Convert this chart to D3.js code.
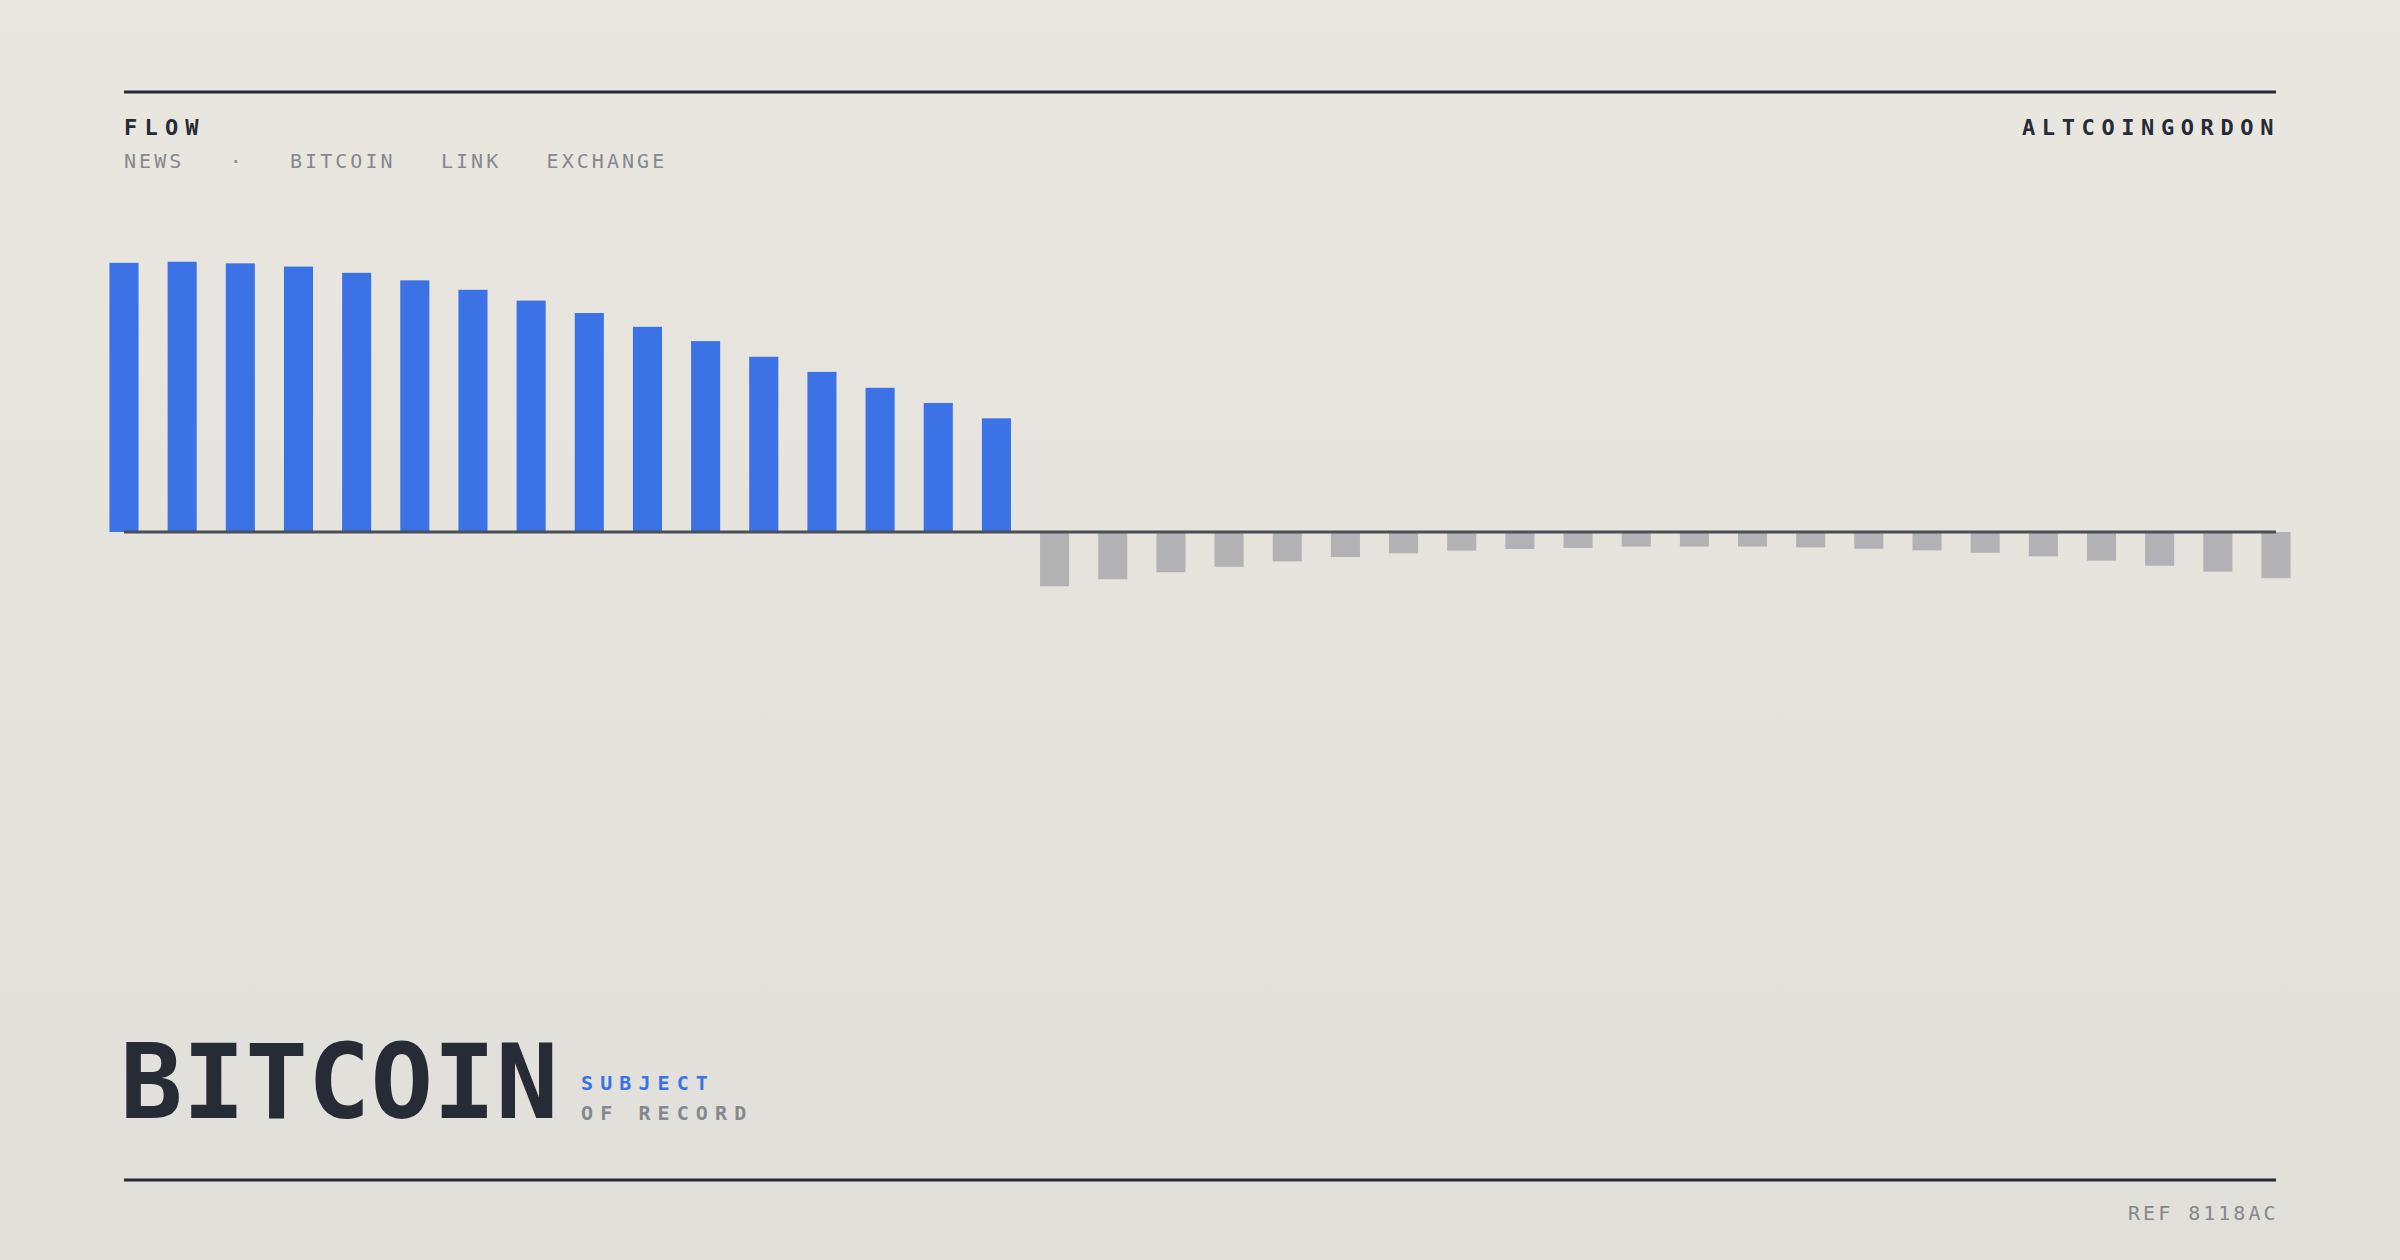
<!DOCTYPE html>
<html>
<head>
<meta charset="utf-8">
<script src="https://cdn.jsdelivr.net/npm/d3@7"></script>
<style>
  html, body { margin: 0; padding: 0; }
  body { width: 2400px; height: 1260px; overflow: hidden; }
  svg text { font-family: "DejaVu Sans Mono", "Liberation Mono", monospace; white-space: pre; }
</style>
</head>
<body>
<svg id="chart" width="2400" height="1260"></svg>
<script>
// ---- data ----
const categories = d3.range(1, 39).map(i => "P" + String(i).padStart(2, "0"));
const inflowValues = [99.7, 100.1, 99.5, 98.3, 96.0, 93.2, 89.7, 85.7, 81.1, 76.0, 70.7, 64.9, 59.3, 53.4, 47.8, 42.1];
const outflowValues = [-20.1, -17.5, -14.9, -12.9, -10.9, -9.3, -7.9, -6.9, -6.3, -5.9, -5.4, -5.4, -5.4, -5.7, -6.2, -6.8, -7.7, -9.0, -10.6, -12.5, -14.7, -17.1];
const values = inflowValues.concat(outflowValues);
const kicker = "FLOW";
const navItems = "NEWS   ·   BITCOIN   LINK   EXCHANGE";
const brand = "ALTCOINGORDON";
const title = "BITCOIN";
const subtitleTop = "SUBJECT";
const subtitleBottom = "OF RECORD";
const refLabel = "REF 8118AC";

// ---- layout ----
const W = 2400, H = 1260;
const left = 124, right = 2276;
const svg = d3.select("#chart");

const defs = svg.append("defs");
const grad = defs.append("linearGradient").attr("id", "bg").attr("x1", 0).attr("y1", 0).attr("x2", 0).attr("y2", 1);
grad.append("stop").attr("offset", "0%").attr("stop-color", "#eae7e0");
grad.append("stop").attr("offset", "100%").attr("stop-color", "#e0dfd9");
svg.append("rect").attr("width", W).attr("height", H).attr("fill", "url(#bg)");

const ink = "#272b35";
const muted = "#868890";
const blue = "#3b72e6";
const grey = "#b2b2b4";

// rules
svg.append("line").attr("x1", left).attr("x2", right).attr("y1", 92).attr("y2", 92).attr("stroke", ink).attr("stroke-width", 3);
svg.append("line").attr("x1", left).attr("x2", right).attr("y1", 1180).attr("y2", 1180).attr("stroke", ink).attr("stroke-width", 3);

// header
svg.append("text").attr("x", left).attr("y", 135).attr("font-size", 22).attr("font-weight", "bold")
  .attr("letter-spacing", 7.2).attr("fill", ink).text(kicker);
svg.append("text").attr("x", left).attr("y", 168).attr("font-size", 20)
  .attr("letter-spacing", 3.05).attr("fill", muted).text(navItems);
const brandText = svg.append("text").attr("y", 135).attr("font-size", 22).attr("font-weight", "bold")
  .attr("letter-spacing", 6.6).attr("fill", ink).text(brand);
{
  const len = brandText.node().getComputedTextLength();
  brandText.attr("x", right + 4 - len);
}

// ---- chart ----
const x = d3.scalePoint().domain(categories).range([left, right]);
const barW = x.step() * 0.5;
const y = d3.scaleLinear().domain([-100, 100]).range([802, 262]);

svg.append("g").selectAll("rect").data(values).join("rect")
  .attr("x", (d, i) => x(categories[i]) - barW / 2)
  .attr("width", barW)
  .attr("y", d => d >= 0 ? y(d) : y(0))
  .attr("height", d => Math.abs(y(d) - y(0)))
  .attr("fill", d => d >= 0 ? blue : grey);

svg.append("line").attr("x1", left).attr("x2", right).attr("y1", y(0)).attr("y2", y(0))
  .attr("stroke", "#4a4e57").attr("stroke-width", 3);

// ---- footer title ----
svg.append("text").attr("x", 120).attr("y", 1118).attr("font-size", 104).attr("font-weight", "bold")
  .attr("fill", ink).text(title);
svg.append("text").attr("x", 581).attr("y", 1090).attr("font-size", 20).attr("font-weight", "bold")
  .attr("letter-spacing", 7.1).attr("fill", blue).text(subtitleTop);
svg.append("text").attr("x", 581).attr("y", 1120).attr("font-size", 20).attr("font-weight", "bold")
  .attr("letter-spacing", 7.1).attr("fill", muted).text(subtitleBottom);

const refText = svg.append("text").attr("y", 1220).attr("font-size", 20)
  .attr("letter-spacing", 3.0).attr("fill", muted).text(refLabel);
{
  const len = refText.node().getComputedTextLength();
  refText.attr("x", right + 2.5 - len);
}
</script>
</body>
</html>
